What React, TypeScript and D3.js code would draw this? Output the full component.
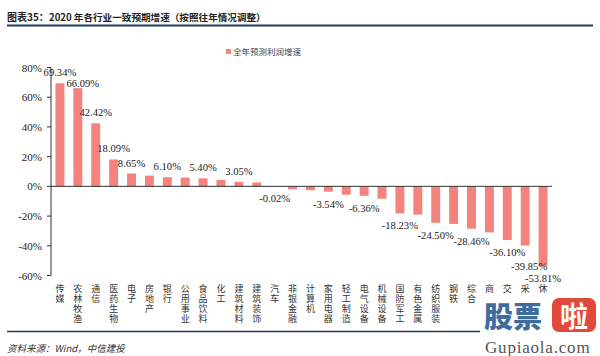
import React from 'react';
import * as d3 from 'd3';

const categories = ['传媒','农林牧渔','通信','医药生物','电子','房地产','银行','公用事业','食品饮料','化工','建筑材料','建筑装饰','汽车','非银金融','计算机','家用电器','轻工制造','电气设备','机械设备','国防军工','有色金属','纺织服装','钢铁','综合','商业贸易','交通运输','采掘','休闲服务'];
const values = [69.34,66.09,42.42,18.09,8.65,7.2,6.10,5.9,5.40,4.3,3.05,2.6,-0.02,-2.0,-2.6,-3.54,-5.6,-6.36,-8.3,-18.23,-19.0,-24.50,-25.3,-28.46,-31.0,-36.10,-39.85,-53.81];
const labeled = [true,true,true,true,true,false,true,false,true,false,true,false,true,false,false,true,false,true,false,true,false,true,false,true,false,true,true,true];
const yTicks = [80,60,40,20,0,-20,-40,-60];
const seriesName = '全年预测利润增速';
const titleText = '图表35：';
const titleRest = '2020 年各行业一致预期增速（按照往年情况调整）';
const sourceText = '资料来源：Wind，中信建投';

const W = 600, H = 356;
const BAR = '#F4837D';
const NAVY = '#1F3A5F';
const SERIF = '"Liberation Serif", "Times New Roman", serif';
const CJK = '"Noto Sans CJK SC", sans-serif';
// white box of the watermark in the lower right corner
const WM = { x: 480, y: 296, w: 120, h: 60 };

export default function App() {
  const x = d3.scaleBand<string>().domain(categories).range([51, 552]).paddingInner(0.5).paddingOuter(0.25);
  const y = d3.scaleLinear().domain([-60, 80]).range([275.5, 67.5]);
  const nudge: Record<number, [number, number]> = { 1: [5, 6], 26: [4, 8] };
  return (
    <svg width={W} height={H} style={{ position: 'absolute', left: 0, top: 0, background: '#fff' }}>
      <rect x={0} y={0} width={W} height={H} fill="#fff" />
      {/* title */}
      <text x={7} y={21} fontFamily={CJK} fontWeight="bold" fontSize={10} fill="#222">{titleText}</text>
      <text x={49} y={21} fontFamily={CJK} fontWeight="bold" fontSize={9.6} fill="#222">{titleRest}</text>
      <line x1={7} x2={593} y1={25.5} y2={25.5} stroke={NAVY} strokeWidth={2} />
      {/* legend */}
      <rect x={226} y={49} width={5} height={5} fill={BAR} />
      <text x={233} y={55} fontFamily={CJK} fontSize={8.5} fill="#444">{seriesName}</text>
      {/* bars */}
      {values.map((v, i) => (
        <rect key={i} x={x(categories[i])} width={x.bandwidth()}
          y={Math.min(y(v), y(0))} height={Math.abs(y(v) - y(0))} fill={BAR} />
      ))}
      {/* y axis */}
      <line x1={51} x2={51} y1={y(80)} y2={y(-60)} stroke="#333" strokeWidth={1} />
      {yTicks.map(t => (
        <g key={t}>
          <line x1={47} x2={51} y1={y(t)} y2={y(t)} stroke="#333" strokeWidth={1} />
          <text x={42} y={y(t) + 4} textAnchor="end" fontFamily={SERIF} fontSize={11} fill="#222">{t}%</text>
        </g>
      ))}
      {/* zero line */}
      <line x1={51} x2={552} y1={y(0)} y2={y(0)} stroke="#333" strokeWidth={1} />
      {/* data labels */}
      {values.map((v, i) => {
        if (!labeled[i]) return null;
        const [dx, dy] = nudge[i] || [0, 0];
        const cx = (x(categories[i]) as number) + x.bandwidth() / 2 + dx;
        const ty = v >= 0 ? y(v) - 7 : y(v) + 16;
        return (
          <text key={i} x={cx} y={ty + dy} textAnchor="middle" fontFamily={SERIF} fontSize={10.6} fill="#222">
            {v.toFixed(2)}%
          </text>
        );
      })}
      {/* category labels, vertical writing (characters hidden under the watermark box are skipped) */}
      {categories.map((c) => {
        const cx = (x(c) as number) + x.bandwidth() / 2;
        const chars = Array.from(c);
        const shown = chars.filter((_, k) => !(cx > WM.x && 292 + k * 10 > WM.y - 2)).join('');
        return (
          <text key={c} x={cx} y={284} fontFamily={CJK} fontSize={9} fill="#333"
            style={{ writingMode: 'vertical-rl', letterSpacing: '1px' }}>
            {shown}
          </text>
        );
      })}
      {/* bottom line and source */}
      <line x1={7} x2={593} y1={331.5} y2={331.5} stroke={NAVY} strokeWidth={1.6} />
      <text x={7} y={352} fontFamily={CJK} fontStyle="italic" fontSize={9.5} fill="#333">{sourceText}</text>
      {/* watermark */}
      <rect x={WM.x} y={WM.y} width={WM.w} height={WM.h} fill="#fff" />
      <text x={484} y={328} fontFamily={CJK} fontWeight="900" fontSize={29} fill="#3F6C9E">股票</text>
      <rect x={552} y={298} width={44} height={34} rx={7} fill="#E2483B" />
      <text x={574} y={327} textAnchor="middle" fontFamily={CJK} fontWeight="bold" fontSize={28} fill="#fff">啦</text>
      <text x={485} y={353} fontFamily={SERIF} fontSize={17} fill="#555" letterSpacing={0.8}>Gupiaola.com</text>
    </svg>
  );
}
